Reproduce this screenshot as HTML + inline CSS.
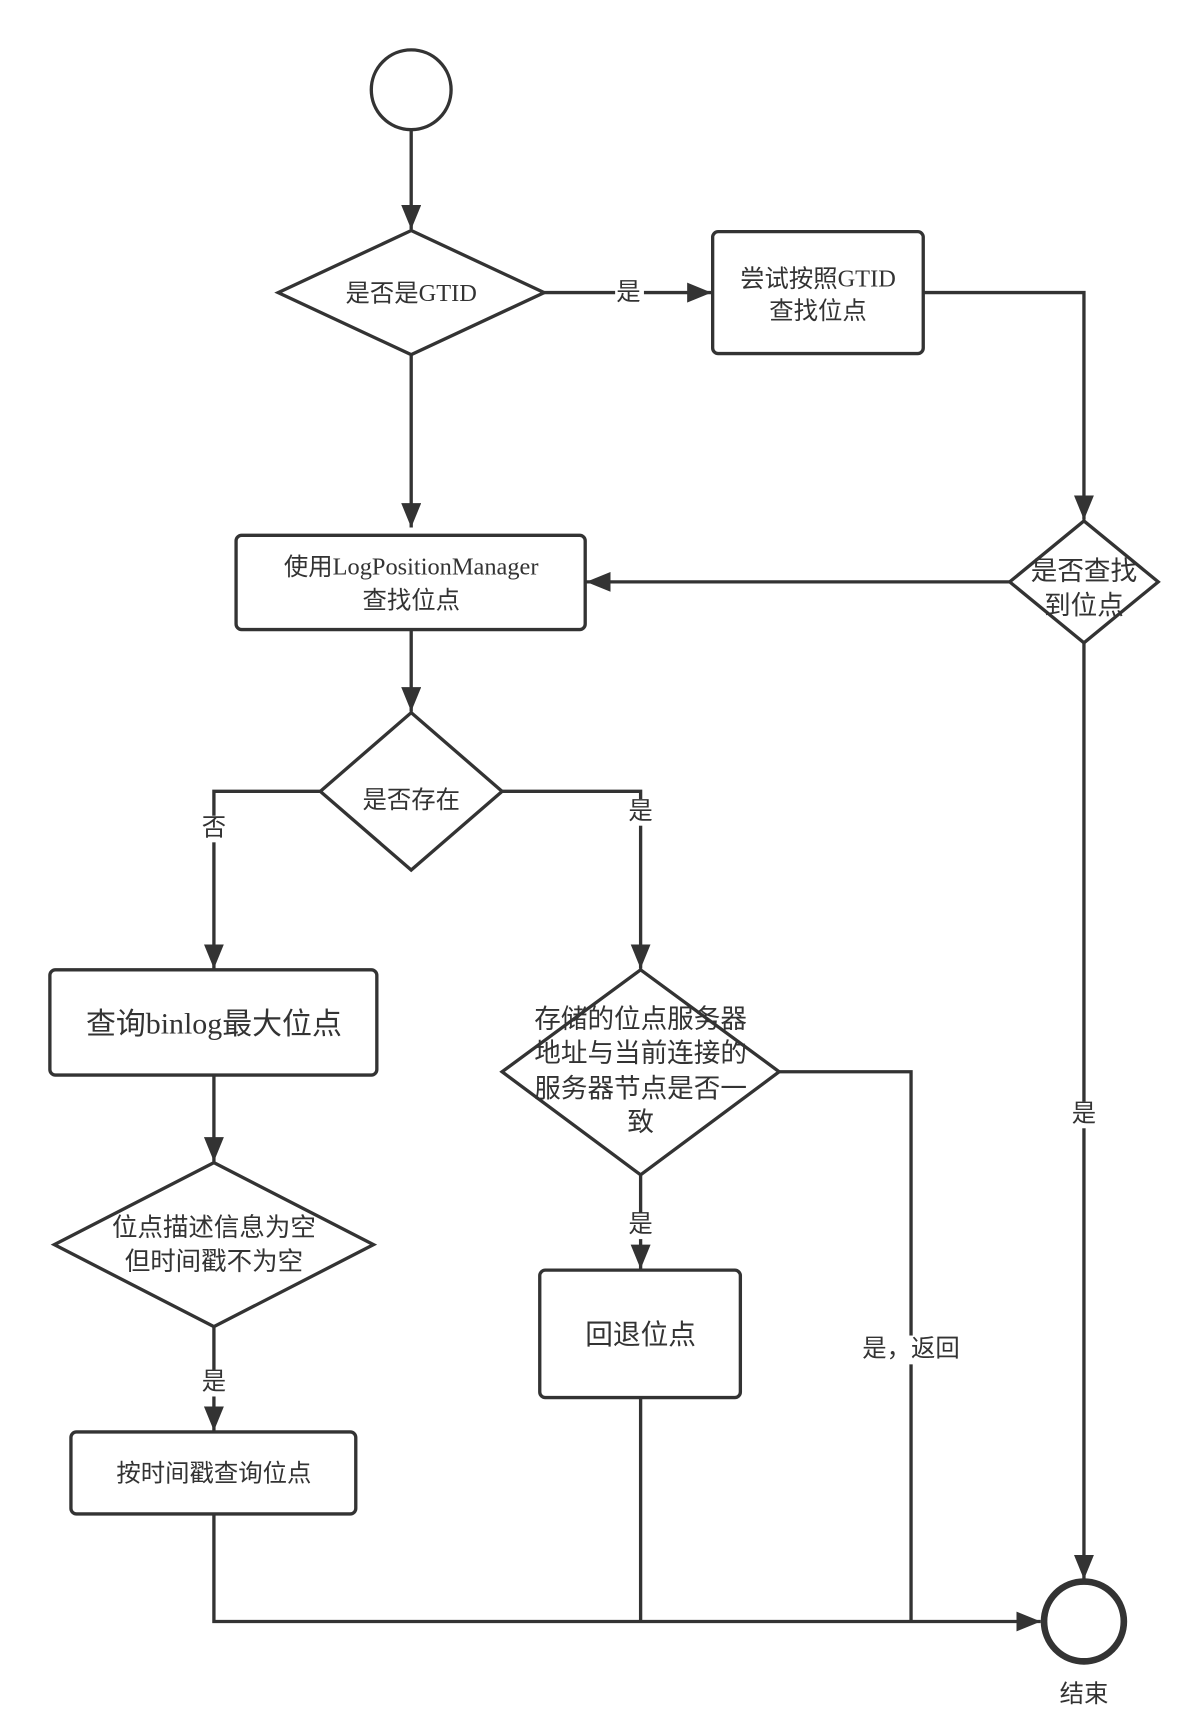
<!DOCTYPE html>
<html><head><meta charset="utf-8"><style>
html,body{margin:0;padding:0;background:#fff;}
svg{display:block;}
text{font-family:"Liberation Sans","Noto Sans CJK SC",sans-serif;fill:#333;text-anchor:middle;dominant-baseline:middle;}
.s{font-family:"Liberation Serif","Noto Sans CJK SC",serif;}
</style></head><body>
<svg width="1197" height="1723" viewBox="0 0 1080 1554.6" xmlns="http://www.w3.org/2000/svg">
<defs>
<marker id="a" markerWidth="22" markerHeight="18" refX="22" refY="9" orient="auto" markerUnits="userSpaceOnUse">
<path d="M0,0 L22,9 L0,18 Z" fill="#333"/>
</marker>
</defs>
<g fill="none" stroke="#333" stroke-width="3">
<circle cx="371" cy="81" r="36"/>
<polygon points="371,208 491,264 371,320 251,264" fill="#fff"/>
<rect x="643" y="209" width="190" height="110" rx="5" fill="#fff"/>
<polygon points="978,470 1045,525 978,580 911,525" fill="#fff"/>
<rect x="213" y="483" width="315" height="85" rx="5" fill="#fff"/>
<polygon points="371,643 453,714 371,785 289,714" fill="#fff"/>
<rect x="45" y="875" width="295" height="95" rx="5" fill="#fff"/>
<polygon points="193,1049 337,1123 193,1197 49,1123" fill="#fff"/>
<rect x="64" y="1292" width="257" height="74" rx="5" fill="#fff"/>
<polygon points="578,875 703,967 578,1060 453,967" fill="#fff"/>
<rect x="487" y="1146" width="181" height="115" rx="5" fill="#fff"/>
<circle cx="978" cy="1463" r="36" stroke-width="6"/>

<path d="M371,117 V207" marker-end="url(#a)"/>
<path d="M491,264 H642" marker-end="url(#a)"/>
<path d="M833,264 H978 V469" marker-end="url(#a)"/>
<path d="M911,525 H529" marker-end="url(#a)"/>
<path d="M371,320 V476" marker-end="url(#a)"/>
<path d="M371,568 V642" marker-end="url(#a)"/>
<path d="M289,714 H193 V874" marker-end="url(#a)"/>
<path d="M453,714 H578 V874" marker-end="url(#a)"/>
<path d="M193,970 V1048" marker-end="url(#a)"/>
<path d="M193,1197 V1291" marker-end="url(#a)"/>
<path d="M578,1060 V1145" marker-end="url(#a)"/>
<path d="M703,967 H822 V1463"/>
<path d="M578,1261 V1463"/>
<path d="M193,1366 V1463 H939" marker-end="url(#a)"/>
<path d="M978,580 V1425" marker-end="url(#a)"/>
</g>
<g fill="#fff">
<rect x="555" y="252" width="26" height="24"/>
<rect x="180" y="736" width="26" height="24"/>
<rect x="565" y="721" width="26" height="24"/>
<rect x="180" y="1236" width="26" height="24"/>
<rect x="565" y="1094" width="26" height="24"/>
<rect x="965" y="994" width="26" height="24"/>
<rect x="770" y="1205" width="104" height="26"/>
</g>
<text x="371" y="266" font-size="22">是否是<tspan class="s">GTID</tspan></text>
<text x="567" y="265" font-size="22">是</text>
<text x="738" y="253" font-size="22">尝试按照<tspan class="s">GTID</tspan></text>
<text x="738" y="282" font-size="22">查找位点</text>
<text x="978" y="517" font-size="24">是否查找</text>
<text x="978" y="548" font-size="24">到位点</text>
<text x="371" y="513" font-size="22">使用<tspan class="s">LogPositionManager</tspan></text>
<text x="371" y="543" font-size="22">查找位点</text>
<text x="371" y="723" font-size="22">是否存在</text>
<text x="193" y="748" font-size="22">否</text>
<text x="578" y="733" font-size="22">是</text>
<text x="193" y="926" font-size="27">查询<tspan class="s">binlog</tspan>最大位点</text>
<text x="193" y="1109" font-size="23">位点描述信息为空</text>
<text x="193" y="1140" font-size="23">但时间戳不为空</text>
<text x="193" y="1248" font-size="22">是</text>
<text x="193" y="1331" font-size="22">按时间戳查询位点</text>
<text x="578" y="921" font-size="24">存储的位点服务器</text>
<text x="578" y="952" font-size="24">地址与当前连接的</text>
<text x="578" y="984" font-size="24">服务器节点是否一</text>
<text x="578" y="1014" font-size="24">致</text>
<text x="578" y="1106" font-size="22">是</text>
<text x="578" y="1206" font-size="25">回退位点</text>
<text x="822" y="1218" font-size="22">是，返回</text>
<text x="978" y="1006" font-size="22">是</text>
<text x="978" y="1530" font-size="22">结束</text>
</svg>
</body></html>
